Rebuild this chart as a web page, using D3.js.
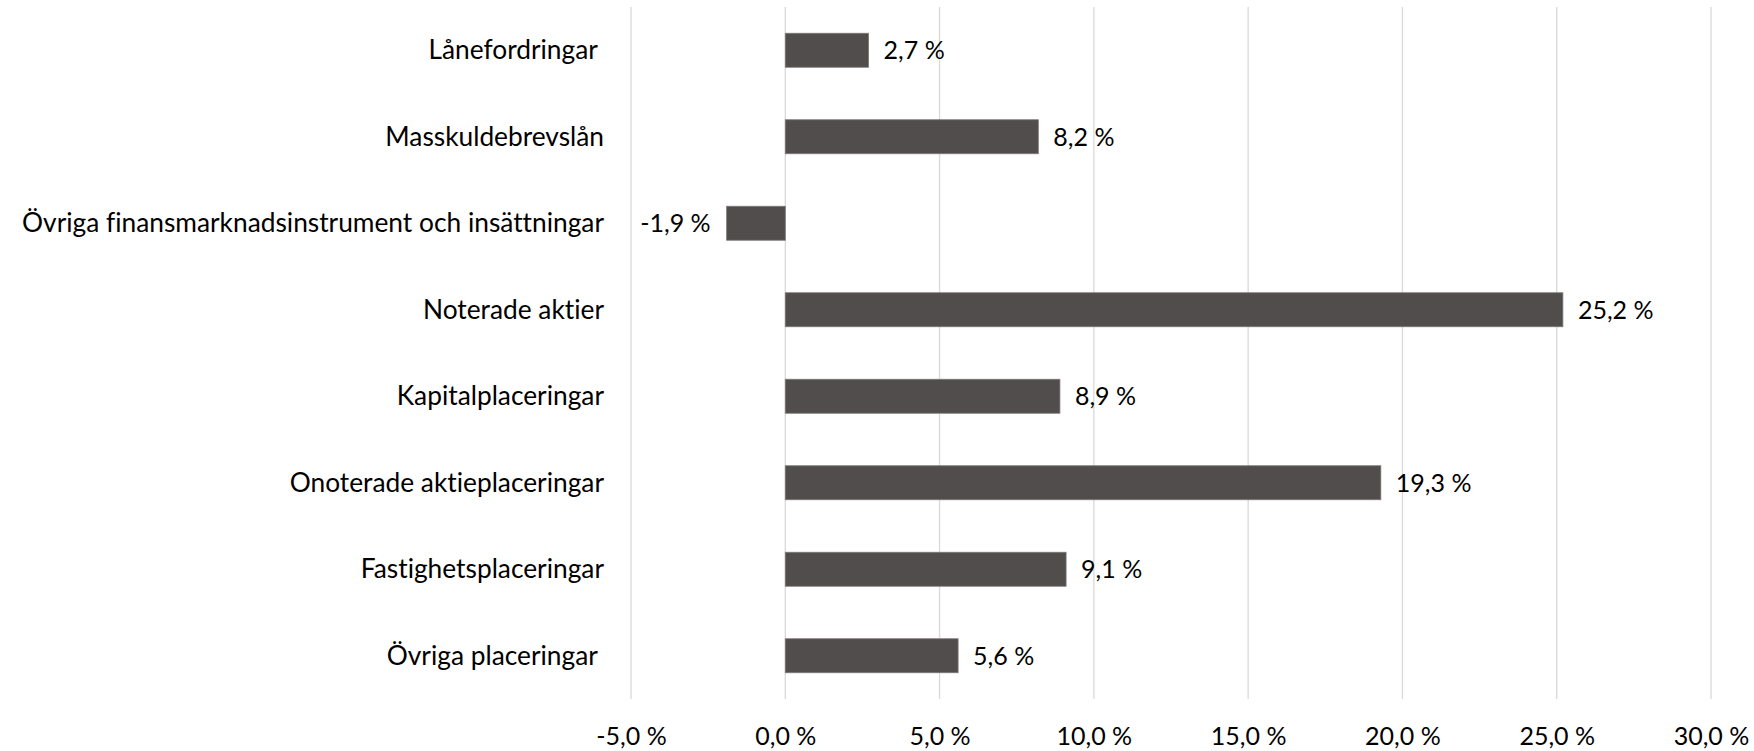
<!DOCTYPE html>
<html><head><meta charset="utf-8">
<script src="https://cdn.jsdelivr.net/npm/d3@7"></script>
<style>body{margin:0;background:#fff}text{font-family:Lato,"Open Sans",sans-serif;fill:#000;font-variant-ligatures:none}</style>
</head><body>
<svg id="c" width="1754" height="751"></svg>
<script>
const categories = ["Lånefordringar ", "Masskuldebrevslån", "Övriga finansmarknadsinstrument och insättningar", "Noterade aktier", "Kapitalplaceringar", "Onoterade aktieplaceringar", "Fastighetsplaceringar", "Övriga placeringar "];
const values = [2.7, 8.2, -1.9, 25.2, 8.9, 19.3, 9.1, 5.6];
const tickValues = [-5, 0, 5, 10, 15, 20, 25, 30];

const fmt = v => v.toFixed(1).replace(".", ",") + " %";
const svg = d3.select("#c");
const x = d3.scaleLinear().domain([-5, 30]).range([631, 1711]);
const y = d3.scaleBand().domain(categories).range([7, 699]).paddingInner(0.607).paddingOuter(0.3035);

// gridlines
svg.append("g").selectAll("line").data(tickValues).join("line")
  .attr("x1", d => x(d)).attr("x2", d => x(d)).attr("y1", 7).attr("y2", 699)
  .attr("stroke", "#d9d9d9").attr("stroke-width", 1.3);

// x axis labels
const xa = svg.append("g").attr("transform", "translate(0,699)")
  .call(d3.axisBottom(x).tickValues(tickValues).tickFormat(fmt).tickSize(0).tickPadding(28));
xa.select(".domain").remove();
xa.selectAll("text").attr("font-size", 25).attr("font-family", "Lato").attr("fill", "#000");

// bars
svg.append("g").selectAll("rect").data(values).join("rect")
  .attr("x", d => x(Math.min(0, d))).attr("width", d => Math.abs(x(d) - x(0)))
  .attr("y", (d, i) => y(categories[i])).attr("height", y.bandwidth())
  .attr("fill", "#504d4c").attr("stroke", "#7a7776").attr("stroke-width", 0.8);

// value labels
svg.append("g").selectAll("text").data(values).join("text")
  .attr("x", d => d >= 0 ? x(d) + 15 : x(d) - 16)
  .attr("y", (d, i) => y(categories[i]) + y.bandwidth() / 2)
  .attr("dy", "0.35em").attr("text-anchor", d => d >= 0 ? "start" : "end")
  .attr("font-size", 25).text(fmt);

// category labels
svg.append("g").selectAll("text").data(categories).join("text")
  .attr("x", 604).attr("y", d => y(d) + y.bandwidth() / 2).attr("dy", "0.35em")
  .attr("text-anchor", "end").attr("font-size", 26.3).style("white-space", "pre").text(d => d);
</script>
</body></html>
